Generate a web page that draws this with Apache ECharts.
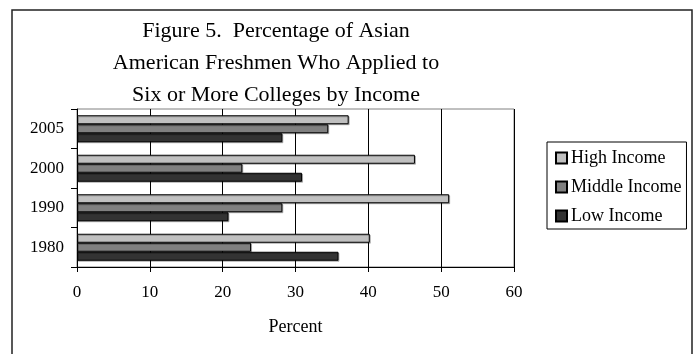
<!DOCTYPE html>
<html>
<head>
<meta charset="utf-8">
<script src="https://cdn.jsdelivr.net/npm/echarts@6/dist/echarts.min.js"></script>
<style>
  html, body { margin: 0; padding: 0; background: #fff; }
  #chart { width: 697px; height: 354px; }
</style>
</head>
<body>
<div id="chart"></div>
<script>
// Survey years (bottom to top on the category axis)
const years = ['1980', '1990', '2000', '2005'];

// Percent applying to six or more colleges, per income group
const highIncome   = [40.2, 51.1, 46.4, 37.3];
const middleIncome = [23.9, 28.2, 22.7, 34.5];
const lowIncome    = [35.9, 20.8, 30.9, 28.2];

const xTicks = { min: 0, max: 60, step: 10 };

const serif = 'Liberation Serif, Times New Roman, serif';

function barSeries(name, data, color) {
  return {
    name: name,
    type: 'bar',
    data: data,
    barWidth: 9,
    barGap: '0%',
    itemStyle: {
      color: color,
      borderColor: '#000',
      borderWidth: 1,
      shadowColor: 'rgba(0,0,0,0.25)',
      shadowOffsetX: 1,
      shadowOffsetY: 1
    },
    emphasis: { disabled: true }
  };
}

const chart = echarts.init(document.getElementById('chart'), null, { renderer: 'canvas' });

chart.setOption({
  animation: false,
  backgroundColor: '#fff',
  textStyle: { fontFamily: serif, color: '#000' },
  graphic: [{
    type: 'rect',
    shape: { x: 12, y: 10, width: 680, height: 360 },
    style: { fill: 'none', stroke: '#222', lineWidth: 1.5 },
    silent: true
  }],
  title: {
    text: 'Figure 5.  Percentage of Asian\nAmerican Freshmen Who Applied to\nSix or More Colleges by Income',
    left: 271,
    top: 10,
    textAlign: 'center',
    textStyle: {
      fontFamily: serif,
      fontSize: 22,
      fontWeight: 'normal',
      lineHeight: 32,
      color: '#000'
    }
  },
  legend: {
    orient: 'vertical',
    left: 547,
    top: 142,
    data: ['High Income', 'Middle Income', 'Low Income'],
    icon: 'rect',
    itemWidth: 11,
    itemHeight: 11,
    itemGap: 11,
    padding: [7, 5, 4, 8],
    borderColor: '#000',
    borderWidth: 1,
    textStyle: { fontFamily: serif, fontSize: 18, color: '#000', lineHeight: 18, padding: [0, 0, 0, -1] },
    selectedMode: false
  },
  grid: {
    left: 77,
    right: 183,
    top: 109,
    bottom: 87,
    show: true,
    borderColor: '#808080',
    borderWidth: 1,
    containLabel: false
  },
  xAxis: {
    type: 'value',
    min: xTicks.min,
    max: xTicks.max,
    interval: xTicks.step,
    name: 'Percent',
    nameLocation: 'middle',
    nameGap: 51,
    nameTextStyle: { fontFamily: serif, fontSize: 18, color: '#000' },
    axisLine: { show: true, lineStyle: { color: '#000', width: 1 } },
    axisTick: { show: true, length: 5, lineStyle: { color: '#000' } },
    axisLabel: { fontFamily: serif, fontSize: 17, color: '#000', margin: 17 },
    splitLine: { show: true, lineStyle: { color: '#000', width: 1 } }
  },
  yAxis: {
    type: 'category',
    data: years,
    axisLine: { show: true, lineStyle: { color: '#000', width: 1 } },
    axisTick: { show: true, length: 6, lineStyle: { color: '#000' } },
    axisLabel: { fontFamily: serif, fontSize: 17, color: '#000', margin: 13 },
    splitLine: { show: false }
  },
  // listed top-to-bottom within each year group
  series: [
    barSeries('High Income', highIncome, '#c0c0c0'),
    barSeries('Middle Income', middleIncome, '#808080'),
    barSeries('Low Income', lowIncome, '#333333')
  ]
});
</script>
</body>
</html>
